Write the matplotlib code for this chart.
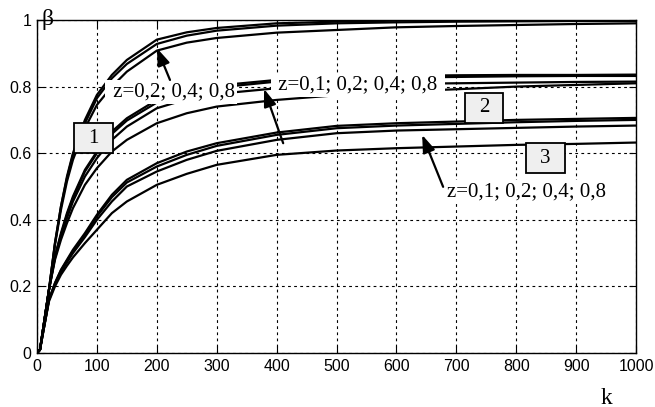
import matplotlib
matplotlib.use("Agg")
import matplotlib.pyplot as plt
from matplotlib.patches import Rectangle

# k grid used for every curve
k = [0, 5, 10, 20, 30, 40, 50, 60, 80, 100, 125, 150, 200, 250, 300,
     400, 500, 600, 700, 800, 900, 1000]

# family 1 (top, -> ~1.0)
a1 = [0, .01, .07, .19, .33, .44, .53, .60, .70, .775, .835, .88, .941, .963, .976,
      .99, .995, .998, 1.0, 1.0, 1.0, 1.0]
a2 = [0, .01, .07, .19, .33, .44, .525, .595, .69, .765, .825, .868, .928, .953, .968,
      .983, .99, .993, .995, .996, .997, .997]
a3 = [0, .01, .07, .19, .325, .43, .515, .58, .675, .745, .80, .845, .908, .932, .946,
      .962, .97, .978, .982, .985, .988, .99]

# middle family (-> ~0.82)
b1 = [0, .01, .07, .19, .29, .36, .42, .47, .55, .605, .665, .705, .76, .787, .803,
      .82, .828, .832, .834, .835, .835, .836]
b2 = [0, .01, .07, .19, .29, .355, .415, .465, .545, .60, .658, .698, .752, .78, .797,
      .815, .823, .827, .829, .831, .832, .832]
b3 = [0, .01, .07, .19, .285, .35, .405, .455, .53, .585, .64, .68, .735, .762, .778,
      .795, .803, .808, .81, .812, .814, .815]
b4 = [0, .01, .07, .19, .28, .34, .39, .435, .505, .555, .605, .64, .69, .72, .74,
      .76, .774, .785, .792, .80, .805, .81]

# families 2 and 3 (-> ~0.7 and ~0.63)
c1 = [0, .01, .06, .16, .21, .25, .28, .31, .36, .415, .475, .52, .57, .605, .63,
      .662, .682, .69, .695, .70, .703, .706]
c2 = [0, .01, .06, .16, .21, .248, .277, .305, .355, .41, .468, .512, .56, .595, .622,
      .655, .675, .683, .688, .693, .697, .70]
c3 = [0, .01, .06, .16, .205, .243, .272, .30, .348, .40, .455, .50, .545, .58, .607,
      .64, .66, .668, .672, .676, .68, .683]
c4 = [0, .01, .06, .155, .20, .235, .262, .287, .33, .37, .42, .455, .505, .538, .565,
      .595, .608, .615, .62, .625, .628, .632]

curves = [a1, a2, a3, b1, b2, b3, b4, c1, c2, c3, c4]

x_ticks = list(range(0, 1001, 100))
y_ticks = [0, 0.2, 0.4, 0.6, 0.8, 1]
y_tick_labels = ['0', '0.2', '0.4', '0.6', '0.8', '1']

serif = 'Liberation Serif'

fig = plt.figure(figsize=(6.55, 4.07), dpi=100)
ax = fig.add_axes([37 / 655, 54 / 407, 599 / 655, 333 / 407])

for c in curves:
    ax.plot(k, c, color='black', lw=1.6, zorder=3)

ax.set_xlim(0, 1000)
ax.set_ylim(0, 1)
ax.set_xticks(x_ticks)
ax.set_yticks(y_ticks)
ax.set_yticklabels(y_tick_labels)
ax.tick_params(direction='in', top=True, right=True, length=5, width=0.8,
               labelsize=11.5, pad=4)
for lab in ax.get_xticklabels() + ax.get_yticklabels():
    lab.set_fontfamily('Liberation Sans')
ax.grid(True, color='black', linestyle=(0, (2.5, 3)), linewidth=0.8)
ax.set_axisbelow(True)
for s in ax.spines.values():
    s.set_linewidth(1.0)

# axis names
ax.text(0.018, 1.0, 'β', transform=ax.transAxes, ha='center', va='center',
        fontsize=17, family=serif, zorder=6)
fig.text(606 / 655, 1 - 398 / 407, 'k', ha='center', va='center',
         fontsize=17, family=serif)

# z labels with white background
wbox = dict(boxstyle='square,pad=0.12', facecolor='white', edgecolor='none')
ax.text(224, 0.784, ' z=0,2; 0,4; 0,8', ha='center', va='center', fontsize=15,
        family=serif, bbox=wbox, zorder=5)
ax.text(536, 0.805, ' z=0,1; 0,2; 0,4; 0,8 ', ha='center', va='center', fontsize=15,
        family=serif, bbox=wbox, zorder=5)
ax.text(818, 0.483, 'z=0,1; 0,2; 0,4; 0,8', ha='center', va='center', fontsize=15,
        family=serif, bbox=wbox, zorder=5)

# arrows
arrow = dict(arrowstyle='-|>,head_length=0.7,head_width=0.25', color='black',
             lw=1.6, shrinkA=0, shrinkB=0, mutation_scale=15)
ax.annotate('', xy=(200, 0.916), xytext=(222, 0.82), arrowprops=arrow, zorder=6)
ax.annotate('', xy=(379, 0.793), xytext=(411, 0.63), arrowprops=arrow, zorder=6)
ax.annotate('', xy=(643, 0.655), xytext=(678, 0.499), arrowprops=arrow, zorder=6)

# numbered boxes
boxes = [('1', 62, 127, 0.60, 0.69), ('2', 714, 778, 0.692, 0.782),
         ('3', 816, 882, 0.54, 0.63)]
for name, x0, x1, y0, y1 in boxes:
    ax.add_patch(Rectangle((x0, y0), x1 - x0, y1 - y0, facecolor='#efefef',
                           edgecolor='black', lw=1.3, zorder=7))
    ax.text((x0 + x1) / 2, (y0 + y1) / 2, name, ha='center', va='center',
            fontsize=15, family=serif, zorder=8)

fig.savefig('out.png', dpi=100)
